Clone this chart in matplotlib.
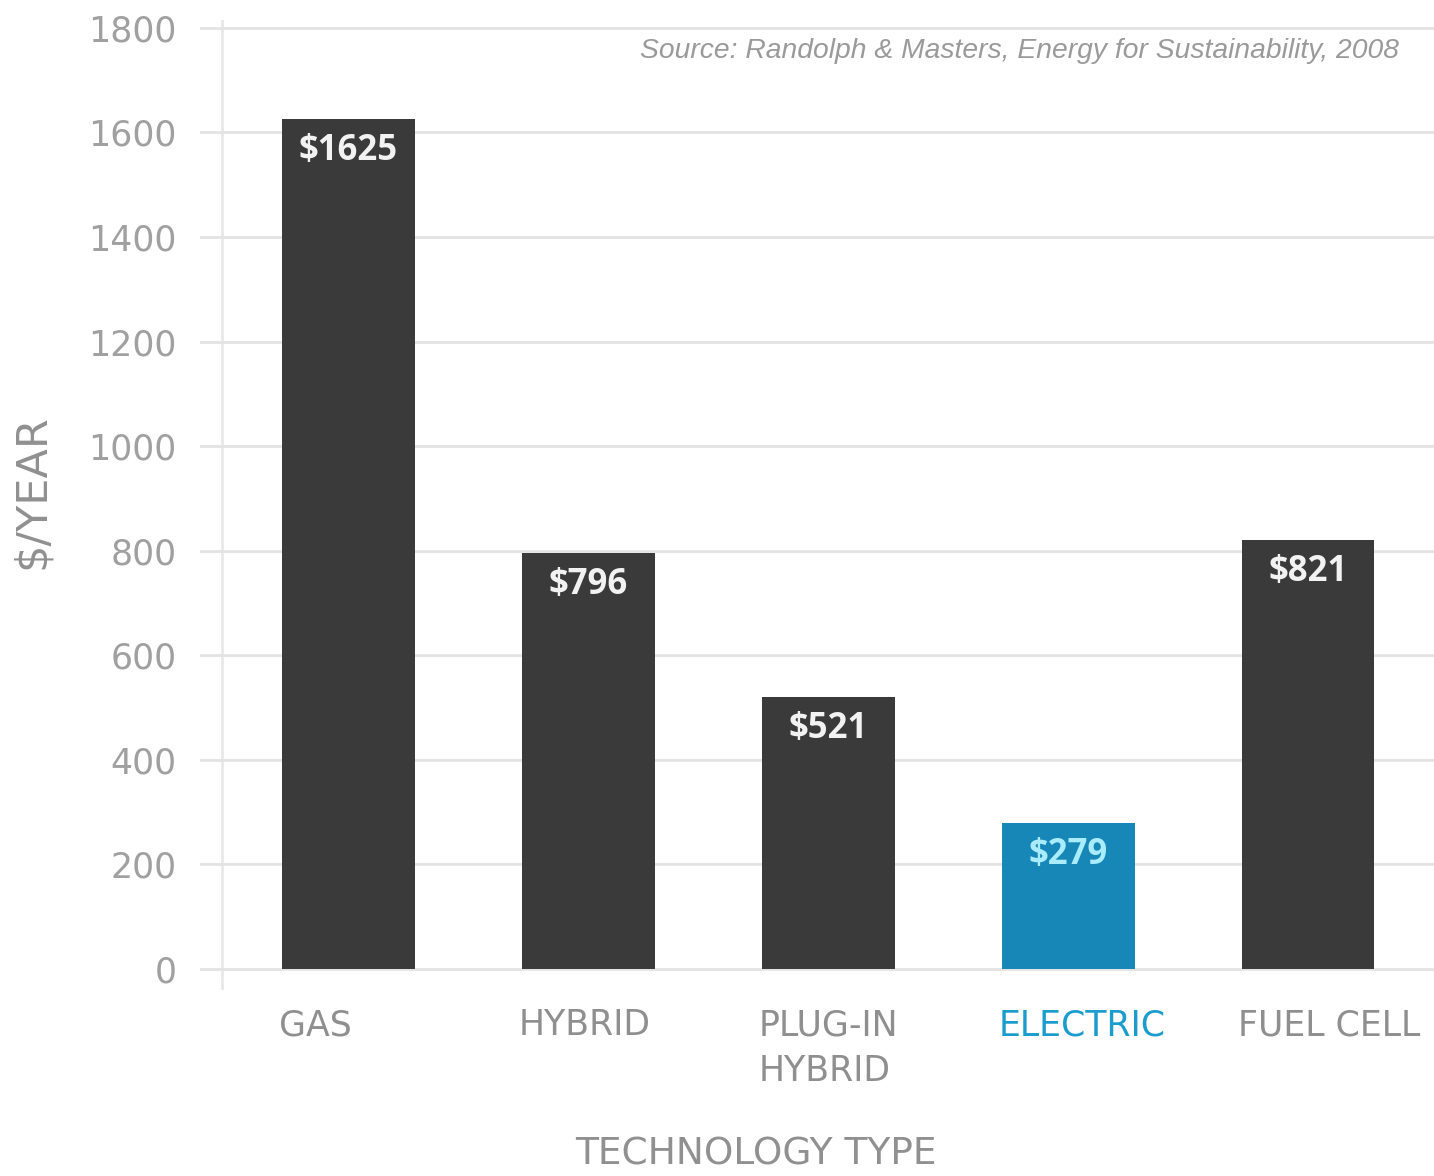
import matplotlib
matplotlib.use("Agg")
import matplotlib.pyplot as plt
import numpy as np

# Data
categories = ["GAS", "HYBRID", "PLUG-IN\nHYBRID", "ELECTRIC", "FUEL CELL"]
values = [1625, 796, 521, 279, 821]
labels = ["$1625", "$796", "$521", "$279", "$821"]
bar_colors = ["#3a3a3a", "#3a3a3a", "#3a3a3a", "#1787b7", "#3a3a3a"]
label_colors = ["#f2f2f2", "#f2f2f2", "#f2f2f2", "#a9ecff", "#f2f2f2"]
xlabel_colors = ["#8f8f8f", "#8f8f8f", "#8f8f8f", "#1a9ccd", "#8f8f8f"]
yticks = [0, 200, 400, 600, 800, 1000, 1200, 1400, 1600, 1800]

plt.rcParams['font.family'] = ['DejaVu Sans']

fig = plt.figure(figsize=(14.34, 11.76), dpi=100)
ax = fig.add_axes([0.1395, 0.1582, 0.8605, 0.8248])

x = np.arange(len(categories))
ax.bar(x, values, width=0.554, color=bar_colors, zorder=3)

# value labels inside the bars
for i, v in enumerate(values):
    ax.annotate(labels[i], (x[i], v), xytext=(0, -10), textcoords='offset points',
                ha='center', va='top', fontsize=25, fontweight='bold',
                color=label_colors[i], family=['Open Sans', 'DejaVu Sans'], zorder=4)

ax.set_xlim(-0.617, 4.525)
ax.set_ylim(-40, 1815)

ax.set_yticks(yticks)
ax.set_yticklabels([str(t) for t in yticks], fontsize=25, color='#a0a0a0')
ax.grid(axis='y', color='#e3e3e3', linewidth=2, zorder=0)
ax.axvline(-0.525, color='#e8e8e8', linewidth=2, zorder=1)

ax.set_xticks(x - 0.29)
ax.set_xticklabels(categories, fontsize=25, ha='left', va='top', linespacing=1.45)
for t, c in zip(ax.get_xticklabels(), xlabel_colors):
    t.set_color(c)

ax.tick_params(axis='both', length=0)
ax.tick_params(axis='y', pad=17)
ax.tick_params(axis='x', pad=13)

for s in ax.spines.values():
    s.set_visible(False)

ax.set_ylabel("$/YEAR", fontsize=31, color='#909090')
ax.yaxis.set_label_coords(-0.119, 0.514)

fig.text(0.527, 0.003, "TECHNOLOGY TYPE", ha='center', va='bottom',
         fontsize=27, color='#909090')

fig.text(640 / 1434, 1 - 51 / 1176, "Source: Randolph & Masters, Energy for Sustainability, 2008",
         ha='left', va='center', fontsize=20.3, style='italic', color='#9a9a9a',
         family=['Liberation Sans Narrow', 'Liberation Sans', 'DejaVu Sans'])

fig.savefig("out.png", dpi=100)
